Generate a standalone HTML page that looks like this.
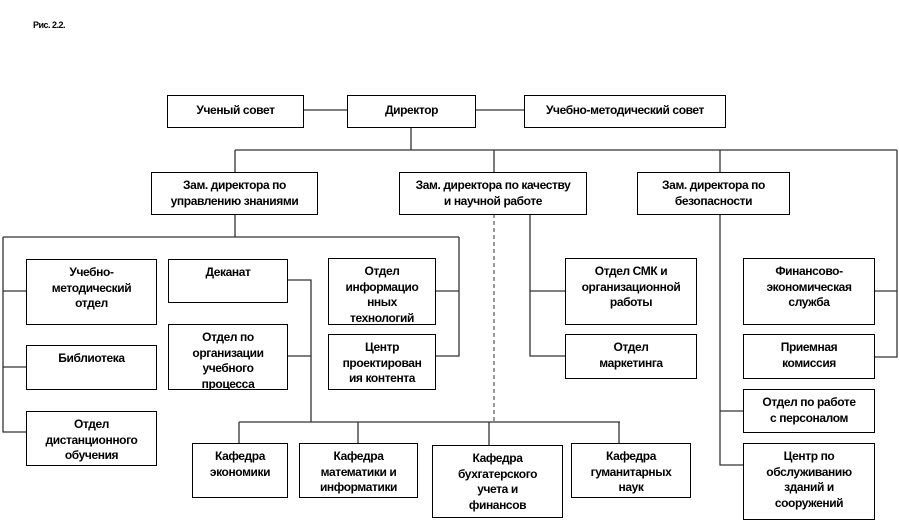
<!DOCTYPE html>
<html><head><meta charset="utf-8"><style>
body{margin:0;width:899px;height:530px;background:#fff;position:relative;overflow:hidden;font-family:"Liberation Sans",Arial,sans-serif}
.b{position:absolute;border:1px solid #000;box-sizing:border-box;background:#fff;overflow:hidden;text-align:center;font-weight:bold;font-size:12px;line-height:15.5px;letter-spacing:-0.4px;padding-top:5px;color:#000}
svg{position:absolute;left:0;top:0}
</style></head><body>
<svg width="899" height="530">
<g stroke="#333" stroke-width="1.3" fill="none">
<path d="M303 110H347M475 110H524"/>
<path d="M411 127V150M235 150H897M235 150V172M494 150V172M720 150V172M897 150V357H874M874 291H897"/>
<path d="M235 214V237M3 237H459M3 237V432H26M3 291H26M3 367H26M459 237V356H435M435 291H459"/>
<path d="M287 280H311V422M287 356H311M239 422H620M239 422V443M358 422V443M489 422V445M619 422V443"/>
<path d="M530 214V356H565M530 291H565"/>
<path d="M720 214V465H743M720 411H743"/>
</g>
<path d="M494 214V422" stroke="#333" stroke-width="1" stroke-dasharray="4,3"/>
</svg>
<div style="position:absolute;left:33px;top:20px;font-size:9px;font-weight:bold;letter-spacing:-0.5px">Рис. 2.2.</div>
<div class="b" style="left:167px;top:95px;width:137px;height:33px;padding-top:7px">Ученый совет</div>
<div class="b" style="left:347px;top:95px;width:129px;height:33px;padding-top:7px">Директор</div>
<div class="b" style="left:524px;top:95px;width:202px;height:33px;padding-top:7px">Учебно-методический совет</div>
<div class="b" style="left:151px;top:172px;width:167px;height:43px">Зам. директора по<br>управлению знаниями</div>
<div class="b" style="left:399px;top:172px;width:188px;height:43px">Зам. директора по качеству<br>и научной работе</div>
<div class="b" style="left:637px;top:172px;width:153px;height:43px">Зам. директора по<br>безопасности</div>
<div class="b" style="left:26px;top:259px;width:131px;height:66px">Учебно-<br>методический<br>отдел</div>
<div class="b" style="left:26px;top:345px;width:131px;height:45px">Библиотека</div>
<div class="b" style="left:26px;top:411px;width:131px;height:55px">Отдел<br>дистанционного<br>обучения</div>
<div class="b" style="left:168px;top:259px;width:120px;height:44px">Деканат</div>
<div class="b" style="left:168px;top:324px;width:120px;height:66px">Отдел по<br>организации<br>учебного<br>процесса</div>
<div class="b" style="left:328px;top:258px;width:108px;height:67px">Отдел<br>информацио<br>нных<br>технологий</div>
<div class="b" style="left:328px;top:334px;width:108px;height:56px">Центр<br>проектирован<br>ия контента</div>
<div class="b" style="left:565px;top:258px;width:132px;height:67px">Отдел СМК и<br>организационной<br>работы</div>
<div class="b" style="left:565px;top:334px;width:132px;height:45px">Отдел<br>маркетинга</div>
<div class="b" style="left:743px;top:258px;width:132px;height:67px">Финансово-<br>экономическая<br>служба</div>
<div class="b" style="left:743px;top:334px;width:132px;height:45px">Приемная<br>комиссия</div>
<div class="b" style="left:743px;top:389px;width:132px;height:44px">Отдел по работе<br>с персоналом</div>
<div class="b" style="left:743px;top:443px;width:132px;height:77px">Центр по<br>обслуживанию<br>зданий и<br>сооружений</div>
<div class="b" style="left:192px;top:443px;width:96px;height:55px">Кафедра<br>экономики</div>
<div class="b" style="left:299px;top:443px;width:119px;height:55px">Кафедра<br>математики и<br>информатики</div>
<div class="b" style="left:432px;top:445px;width:131px;height:73px">Кафедра<br>бухгатерского<br>учета и<br>финансов</div>
<div class="b" style="left:571px;top:443px;width:120px;height:55px">Кафедра<br>гуманитарных<br>наук</div>
</body></html>
